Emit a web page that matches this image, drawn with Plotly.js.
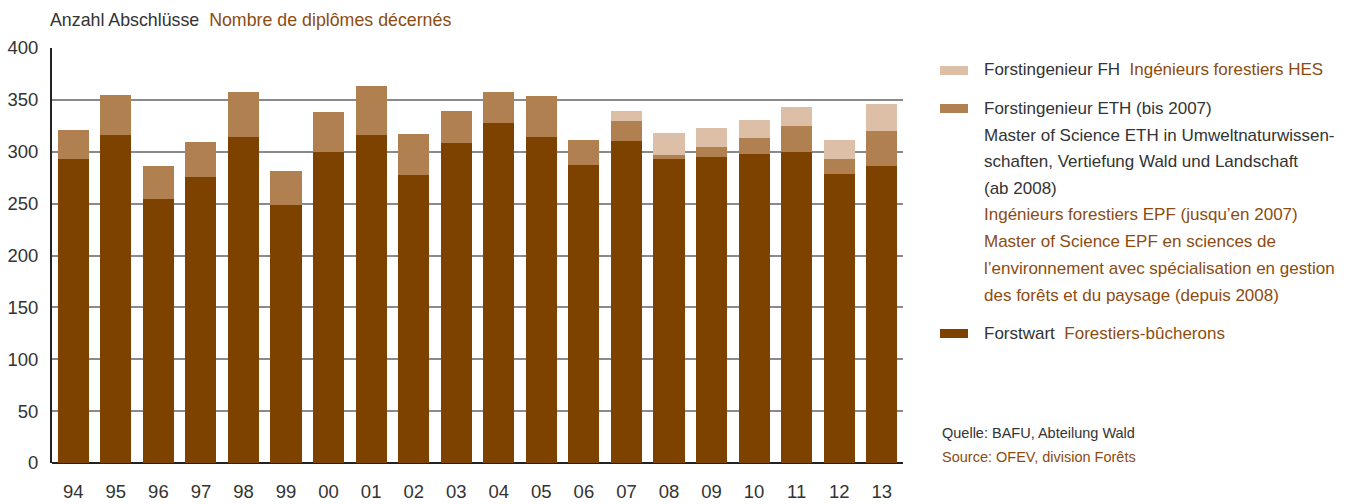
<!DOCTYPE html>
<html>
<head>
<meta charset="utf-8">
<script src="https://cdn.plot.ly/plotly-3.0.1.min.js"></script>
<style>
html,body{margin:0;padding:0;background:#fff;}
#chart{width:1362px;height:504px;}
</style>
</head>
<body>
<div id="chart"></div>
<script>
const years = ['94','95','96','97','98','99','00','01','02','03','04','05','06','07','08','09','10','11','12','13'];
const forstwart = [293,316,254,276,314,249,300,316,278,308,328,314,287,310,293,295,298,300,279,286];
const eth = [28,39,32,33,44,32,38,47,39,31,30,40,24,20,4,10,15,25,14,34];
const fh = [0,0,0,0,0,0,0,0,0,0,0,0,0,9,21,18,18,18,18,26];
const yTicks = [0,50,100,150,200,250,300,350,400];

const C_DARK = '#7d4200';
const C_MID = '#b08050';
const C_LIGHT = '#dcbfa6';
const T_DARK = '#333333';
const T_BROWN = '#8c4c10';

const SANS = '"Liberation Sans", Arial, sans-serif';

const traces = [
  {type:'bar', x:years, y:forstwart, name:'Forstwart', marker:{color:C_DARK, line:{width:0}}, hoverinfo:'x+y'},
  {type:'bar', x:years, y:eth, name:'ETH', marker:{color:C_MID, line:{width:0}}, hoverinfo:'x+y'},
  {type:'bar', x:years, y:fh, name:'FH', marker:{color:C_LIGHT, line:{width:0}}, hoverinfo:'x+y'}
];

function b(t){return '<span style="color:'+T_BROWN+'">'+t+'</span>';}

const legX = 982;
const lines = [
  {y:70, t:'Forstingenieur FH  ' + b('Ingénieurs forestiers HES')},
  {y:108, t:'Forstingenieur ETH (bis 2007)'},
  {y:135, t:'Master of Science ETH in Umweltnaturwissen-'},
  {y:161, t:'schaften, Vertiefung Wald und Landschaft'},
  {y:188, t:'(ab 2008)'},
  {y:214, t:b('Ingénieurs forestiers EPF (jusqu’en 2007)')},
  {y:241, t:b('Master of Science EPF en sciences de')},
  {y:268, t:b('l’environnement avec spécialisation en gestion')},
  {y:295, t:b('des forêts et du paysage (depuis 2008)')},
  {y:333, t:'Forstwart  ' + b('Forestiers-bûcherons')}
];

const W = 1362, H = 504;
function px2x(p){return (p-52)/(903-52);}
function py2y(p){return (463-p)/(463-48);}

const annotations = lines.map(l => ({
  xref:'paper', yref:'paper', x:px2x(legX), y:py2y(l.y),
  xanchor:'left', yanchor:'middle', showarrow:false, text:l.t,
  font:{family:SANS, size:17, color:T_DARK}
}));
annotations.push({
  xref:'paper', yref:'paper', x:px2x(940), y:py2y(433),
  xanchor:'left', yanchor:'middle', showarrow:false, text:'Quelle: BAFU, Abteilung Wald',
  font:{family:SANS, size:14.5, color:T_DARK}
});
annotations.push({
  xref:'paper', yref:'paper', x:px2x(940), y:py2y(457),
  xanchor:'left', yanchor:'middle', showarrow:false, text:b('Source: OFEV, division Forêts'),
  font:{family:SANS, size:14.5, color:T_DARK}
});

const swatches = [
  {y0:66, y1:75, c:C_LIGHT},
  {y0:104, y1:113, c:C_MID},
  {y0:329, y1:338, c:C_DARK}
].map(s => ({type:'rect', xref:'paper', yref:'paper', x0:px2x(940), x1:px2x(968), y0:py2y(s.y1), y1:py2y(s.y0), fillcolor:s.c, line:{width:0}}));

const layout = {
  width:W, height:H,
  margin:{l:52, r:W-903, t:48, b:H-463, pad:0},
  paper_bgcolor:'#fff', plot_bgcolor:'#fff',
  barmode:'stack', bargap:0.27,
  showlegend:false,
  title:{
    text:'Anzahl Abschlüsse  ' + b('Nombre de diplômes décernés'),
    x:50/W, xanchor:'left', xref:'container', y:1-20/H, yanchor:'middle', yref:'container',
    font:{family:SANS, size:17.8, color:T_DARK}
  },
  xaxis:{
    type:'category', categoryorder:'array', categoryarray:years,
    range:[-0.5, 19.5], showgrid:false, zeroline:false, showline:false,
    ticks:'', ticklabelstandoff:15,
    tickfont:{family:SANS, size:18.5, color:T_DARK}
  },
  yaxis:{
    range:[0,400], tickvals:yTicks, ticktext:yTicks.map(String),
    showgrid:true, gridcolor:'#8a8a8a', gridwidth:2,
    zeroline:true, zerolinecolor:'#222', zerolinewidth:2,
    showline:true, linecolor:'#222', linewidth:2,
    ticks:'', ticklabelstandoff:8,
    tickfont:{family:SANS, size:18.5, color:T_DARK}
  },
  shapes:swatches,
  annotations:annotations
};

Plotly.newPlot('chart', traces, layout, {displayModeBar:false, staticPlot:true});
</script>
</body>
</html>
